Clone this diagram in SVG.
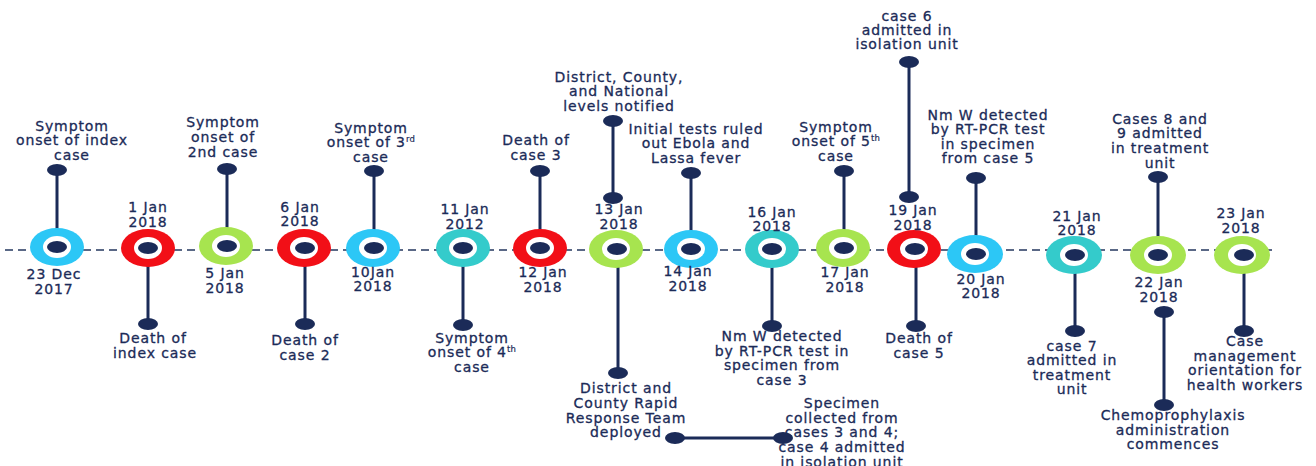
<svg xmlns="http://www.w3.org/2000/svg" width="1316" height="466" viewBox="0 0 1316 466">
<style>
text{font-family:"DejaVu Sans","Liberation Sans",sans-serif;font-size:14px;fill:#1b2b58;stroke:#1b2b58;stroke-width:0.3px;text-anchor:middle;letter-spacing:0.9px}
.sup{font-size:8.5px;stroke-width:0.2px;letter-spacing:0.3px}
.pin{stroke:#1b2b58;stroke-width:3;fill:none}
.dot{fill:#1b2b58}
.hole{fill:#ffffff}
.blue{fill:#2cc7f6}
.red{fill:#f20f17}
.green{fill:#a7e44f}
.teal{fill:#34cbcb}
.axis{stroke:#5a6886;stroke-width:2;stroke-dasharray:8 5;fill:none}
</style>
<rect width="1316" height="466" fill="#ffffff"/>
<g id="connectors">
<line class="axis" x1="5" y1="250" x2="1272" y2="250"/>
<line class="pin" x1="57" y1="247" x2="57" y2="170"/>
<line class="pin" x1="148" y1="248" x2="148" y2="324"/>
<line class="pin" x1="227" y1="246" x2="227" y2="169"/>
<line class="pin" x1="305" y1="248" x2="305" y2="324"/>
<line class="pin" x1="374" y1="248" x2="374" y2="171"/>
<line class="pin" x1="463" y1="248" x2="463" y2="325"/>
<line class="pin" x1="540" y1="248" x2="540" y2="171"/>
<line class="pin" x1="613" y1="121" x2="613" y2="198"/>
<line class="pin" x1="618" y1="249" x2="618" y2="373"/>
<line class="pin" x1="675" y1="438" x2="783" y2="438"/>
<line class="pin" x1="691" y1="249" x2="691" y2="173"/>
<line class="pin" x1="772" y1="249" x2="772" y2="326"/>
<line class="pin" x1="844" y1="248" x2="844" y2="171"/>
<line class="pin" x1="909" y1="62" x2="909" y2="197"/>
<line class="pin" x1="916" y1="249" x2="916" y2="326"/>
<line class="pin" x1="976" y1="254" x2="976" y2="178"/>
<line class="pin" x1="1075" y1="255" x2="1075" y2="331"/>
<line class="pin" x1="1158" y1="255" x2="1158" y2="177"/>
<line class="pin" x1="1164" y1="312" x2="1164" y2="405"/>
<line class="pin" x1="1244" y1="255" x2="1244" y2="331"/>
</g>
<g id="n1">
<ellipse class="blue" cx="57" cy="247" rx="27" ry="19"/><ellipse class="hole" cx="57" cy="247" rx="14" ry="11"/><ellipse class="dot" cx="57" cy="247" rx="10" ry="6"/>
<ellipse class="dot" cx="57" cy="170" rx="10" ry="6"/>
<text x="72" y="131">Symptom</text><text x="72" y="145">onset of index</text><text x="72" y="160">case</text>
<text x="54" y="279">23 Dec</text><text x="54" y="294">2017</text>
</g>
<g id="n2">
<ellipse class="red" cx="148" cy="248" rx="27" ry="19"/><ellipse class="hole" cx="148" cy="248" rx="14" ry="11"/><ellipse class="dot" cx="148" cy="248" rx="10" ry="6"/>
<ellipse class="dot" cx="148" cy="324" rx="10" ry="6"/>
<text x="148" y="212">1 Jan</text><text x="148" y="227">2018</text>
<text x="153" y="343">Death of</text><text x="155" y="358">index case</text>
</g>
<g id="n3">
<ellipse class="green" cx="226" cy="246" rx="27" ry="19"/><ellipse class="hole" cx="226" cy="246" rx="14" ry="11"/><ellipse class="dot" cx="227" cy="246" rx="10" ry="6"/>
<ellipse class="dot" cx="227" cy="169" rx="10" ry="6"/>
<text x="223" y="127">Symptom</text><text x="223" y="142">onset of</text><text x="223" y="157">2nd case</text>
<text x="225" y="278">5 Jan</text><text x="225" y="293">2018</text>
</g>
<g id="n4">
<ellipse class="red" cx="304" cy="248" rx="27" ry="19"/><ellipse class="hole" cx="304" cy="248" rx="14" ry="11"/><ellipse class="dot" cx="305" cy="248" rx="10" ry="6"/>
<ellipse class="dot" cx="305" cy="324" rx="10" ry="6"/>
<text x="300" y="212">6 Jan</text><text x="300" y="226">2018</text>
<text x="305" y="345">Death of</text><text x="305" y="360">case 2</text>
</g>
<g id="n5">
<ellipse class="blue" cx="373" cy="248" rx="27" ry="19"/><ellipse class="hole" cx="373" cy="248" rx="14" ry="11"/><ellipse class="dot" cx="374" cy="248" rx="10" ry="6"/>
<ellipse class="dot" cx="374" cy="171" rx="10" ry="6"/>
<text x="371" y="133">Symptom</text><text x="371" y="147">onset of 3<tspan class="sup" dy="-5">rd</tspan></text><text x="371" y="162">case</text>
<text x="373" y="277">10Jan</text><text x="373" y="291">2018</text>
</g>
<g id="n6">
<ellipse class="teal" cx="463" cy="248" rx="27" ry="19"/><ellipse class="hole" cx="463" cy="248" rx="14" ry="11"/><ellipse class="dot" cx="463" cy="248" rx="10" ry="6"/>
<ellipse class="dot" cx="463" cy="325" rx="10" ry="6"/>
<text x="465" y="214">11 Jan</text><text x="465" y="229">2012</text>
<text x="472" y="343">Symptom</text><text x="472" y="357">onset of 4<tspan class="sup" dy="-5">th</tspan></text><text x="472" y="372">case</text>
</g>
<g id="n7">
<ellipse class="red" cx="540" cy="248" rx="27" ry="19"/><ellipse class="hole" cx="540" cy="248" rx="14" ry="11"/><ellipse class="dot" cx="540" cy="248" rx="10" ry="6"/>
<ellipse class="dot" cx="540" cy="171" rx="10" ry="6"/>
<text x="536" y="145">Death of</text><text x="536" y="160">case 3</text>
<text x="543" y="277">12 Jan</text><text x="543" y="292">2018</text>
</g>
<g id="n8">
<ellipse class="green" cx="616" cy="249" rx="27" ry="19"/><ellipse class="hole" cx="616" cy="249" rx="14" ry="11"/><ellipse class="dot" cx="617" cy="249" rx="10" ry="6"/>
<ellipse class="dot" cx="613" cy="121" rx="10" ry="6"/><ellipse class="dot" cx="613" cy="198" rx="10" ry="6"/>
<ellipse class="dot" cx="618" cy="373" rx="10" ry="6"/>
<ellipse class="dot" cx="675" cy="438" rx="10" ry="6"/><ellipse class="dot" cx="783" cy="438" rx="10" ry="6"/>
<text x="619" y="82">District, County,</text><text x="619" y="96">and National</text><text x="619" y="111">levels notified</text>
<text x="619" y="214">13 Jan</text><text x="619" y="229">2018</text>
<text x="626" y="393">District and</text><text x="626" y="408">County Rapid</text><text x="626" y="423">Response Team</text><text x="626" y="437">deployed</text>
<text x="842" y="408">Specimen</text><text x="842" y="423">collected from</text><text x="842" y="437">cases 3 and 4;</text><text x="842" y="452">case 4 admitted</text><text x="842" y="467">in isolation unit</text>
</g>
<g id="n9">
<ellipse class="blue" cx="691" cy="249" rx="27" ry="19"/><ellipse class="hole" cx="691" cy="249" rx="14" ry="11"/><ellipse class="dot" cx="691" cy="249" rx="10" ry="6"/>
<ellipse class="dot" cx="691" cy="173" rx="10" ry="6"/>
<text x="696" y="134">Initial tests ruled</text><text x="696" y="148">out Ebola and</text><text x="696" y="163">Lassa fever</text>
<text x="688" y="276">14 Jan</text><text x="688" y="291">2018</text>
</g>
<g id="n10">
<ellipse class="teal" cx="772" cy="249" rx="27" ry="19"/><ellipse class="hole" cx="772" cy="249" rx="14" ry="11"/><ellipse class="dot" cx="772" cy="249" rx="10" ry="6"/>
<ellipse class="dot" cx="772" cy="326" rx="10" ry="6"/>
<text x="772" y="217">16 Jan</text><text x="772" y="231">2018</text>
<text x="782" y="341">Nm W detected</text><text x="782" y="356">by RT-PCR test in</text><text x="782" y="370">specimen from</text><text x="782" y="385">case 3</text>
</g>
<g id="n11">
<ellipse class="green" cx="843" cy="248" rx="27" ry="19"/><ellipse class="hole" cx="843" cy="248" rx="14" ry="11"/><ellipse class="dot" cx="844" cy="248" rx="10" ry="6"/>
<ellipse class="dot" cx="844" cy="171" rx="10" ry="6"/>
<text x="836" y="132">Symptom</text><text x="836" y="146">onset of 5<tspan class="sup" dy="-5">th</tspan></text><text x="836" y="161">case</text>
<text x="845" y="277">17 Jan</text><text x="845" y="292">2018</text>
</g>
<g id="n12">
<ellipse class="red" cx="914" cy="249" rx="27" ry="19"/><ellipse class="hole" cx="914" cy="249" rx="14" ry="11"/><ellipse class="dot" cx="915" cy="249" rx="10" ry="6"/>
<ellipse class="dot" cx="909" cy="62" rx="10" ry="6"/><ellipse class="dot" cx="909" cy="197" rx="10" ry="6"/>
<ellipse class="dot" cx="916" cy="326" rx="10" ry="6"/>
<text x="907" y="21">case 6</text><text x="907" y="35">admitted in</text><text x="907" y="49">isolation unit</text>
<text x="913" y="215">19 Jan</text><text x="913" y="230">2018</text>
<text x="919" y="343">Death of</text><text x="919" y="358">case 5</text>
</g>
<g id="n13">
<ellipse class="blue" cx="975" cy="254" rx="28" ry="19"/><ellipse class="hole" cx="975" cy="254" rx="14" ry="11"/><ellipse class="dot" cx="976" cy="254" rx="10" ry="6"/>
<ellipse class="dot" cx="976" cy="178" rx="10" ry="6"/>
<text x="988" y="120">Nm W detected</text><text x="988" y="134">by RT-PCR test</text><text x="988" y="149">in specimen</text><text x="988" y="163">from case 5</text>
<text x="981" y="284">20 Jan</text><text x="981" y="298">2018</text>
</g>
<g id="n14">
<ellipse class="teal" cx="1074" cy="255" rx="28" ry="19"/><ellipse class="hole" cx="1074" cy="255" rx="14" ry="11"/><ellipse class="dot" cx="1075" cy="255" rx="10" ry="6"/>
<ellipse class="dot" cx="1075" cy="331" rx="10" ry="6"/>
<text x="1077" y="221">21 Jan</text><text x="1077" y="235">2018</text>
<text x="1072" y="351">case 7</text><text x="1072" y="365">admitted in</text><text x="1072" y="380">treatment</text><text x="1072" y="394">unit</text>
</g>
<g id="n15">
<ellipse class="green" cx="1158" cy="255" rx="28" ry="19"/><ellipse class="hole" cx="1158" cy="255" rx="14" ry="11"/><ellipse class="dot" cx="1158" cy="255" rx="10" ry="6"/>
<ellipse class="dot" cx="1158" cy="177" rx="10" ry="6"/>
<ellipse class="dot" cx="1164" cy="312" rx="10" ry="6"/><ellipse class="dot" cx="1164" cy="405" rx="10" ry="6"/>
<text x="1160" y="124">Cases 8 and</text><text x="1160" y="138">9 admitted</text><text x="1160" y="153">in treatment</text><text x="1160" y="168">unit</text>
<text x="1159" y="287">22 Jan</text><text x="1159" y="302">2018</text>
<text x="1173" y="420">Chemoprophylaxis</text><text x="1173" y="435">administration</text><text x="1173" y="449">commences</text>
</g>
<g id="n16">
<ellipse class="green" cx="1242" cy="255" rx="28" ry="19"/><ellipse class="hole" cx="1242" cy="255" rx="14" ry="11"/><ellipse class="dot" cx="1244" cy="255" rx="10" ry="6"/>
<ellipse class="dot" cx="1244" cy="331" rx="10" ry="6"/>
<text x="1241" y="218">23 Jan</text><text x="1241" y="233">2018</text>
<text x="1245" y="346">Case</text><text x="1245" y="361">management</text><text x="1245" y="375">orientation for</text><text x="1245" y="390">health workers</text>
</g>
</svg>
